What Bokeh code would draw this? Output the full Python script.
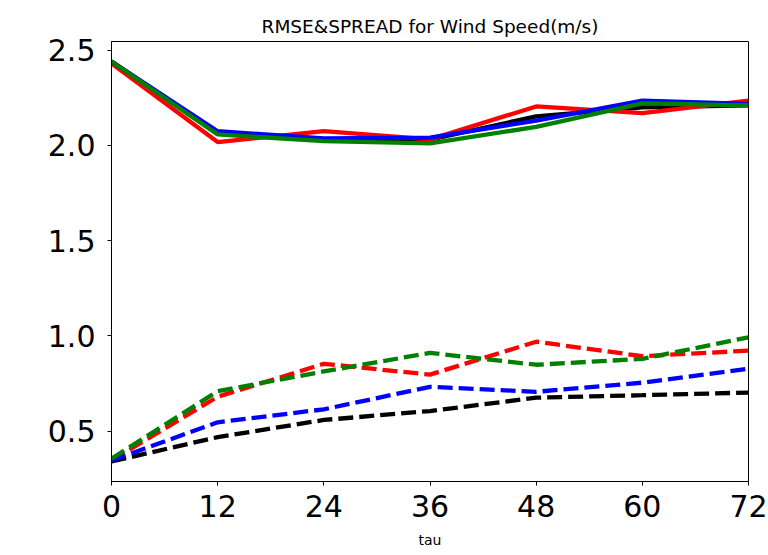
from bokeh.plotting import figure
from bokeh.embed import file_html
from bokeh.resources import INLINE
from bokeh.models import Range1d, FixedTicker

tau = [0, 12, 24, 36, 48, 60, 72]

rmse_black = [2.44, 2.065, 2.03, 2.03, 2.152, 2.199, 2.21]
rmse_red = [2.43, 2.017, 2.074, 2.031, 2.204, 2.169, 2.235]
rmse_blue = [2.44, 2.074, 2.036, 2.040, 2.13, 2.235, 2.218]
rmse_green = [2.44, 2.057, 2.022, 2.010, 2.097, 2.22, 2.21]

spread_black = [0.34, 0.468, 0.558, 0.605, 0.675, 0.688, 0.702]
spread_blue = [0.345, 0.546, 0.614, 0.732, 0.706, 0.754, 0.827]
spread_red = [0.345, 0.680, 0.853, 0.796, 0.969, 0.893, 0.922]
spread_green = [0.355, 0.709, 0.813, 0.910, 0.848, 0.879, 0.992]

y_ticks = [0.5, 1.0, 1.5, 2.0, 2.5]

p = figure(width=768, height=555, output_backend="svg", toolbar_location=None,
           x_range=Range1d(0, 72), y_range=Range1d(0.235, 2.545),
           min_border_left=111, min_border_right=20, min_border_top=41,
           min_border_bottom=74, title="RMSE&SPREAD for Wind Speed(m/s)")

p.title.align = "center"
p.title.text_font = "DejaVu Sans"
p.title.text_font_size = "18.5px"
p.title.text_font_style = "normal"
p.title.text_color = "#000000"

p.grid.visible = False
p.outline_line_color = "#000000"
p.outline_line_width = 1

for ax in (p.xaxis, p.yaxis):
    ax.major_label_text_font = "DejaVu Sans"
    ax.major_label_text_font_size = "30px"
    ax.major_label_text_color = "#000000"
    ax.axis_line_color = "#000000"
    ax.major_tick_line_color = "#000000"
    ax.major_tick_in = 0
    ax.major_tick_out = 4
    ax.minor_tick_line_color = None

p.xaxis.ticker = FixedTicker(ticks=tau)
p.yaxis.ticker = FixedTicker(ticks=y_ticks)
p.yaxis.major_label_overrides = {v: f"{v:.1f}" for v in y_ticks}
p.xaxis.major_label_standoff = 9
p.yaxis.major_label_standoff = 12
p.xaxis.axis_label = "tau"
p.xaxis.axis_label_text_font = "DejaVu Sans"
p.xaxis.axis_label_text_font_size = "14px"
p.xaxis.axis_label_text_font_style = "normal"
p.xaxis.axis_label_text_color = "#000000"
p.xaxis.axis_label_standoff = 12

lw = 4.3
p.line(tau, rmse_black, color="black", line_width=lw)
p.line(tau, rmse_red, color="red", line_width=lw)
p.line(tau, rmse_blue, color="blue", line_width=lw)
p.line(tau, rmse_green, color="green", line_width=lw)

dash = "15 6"
p.line(tau, spread_black, color="black", line_width=lw, line_dash=dash)
p.line(tau, spread_red, color="red", line_width=lw, line_dash=dash)
p.line(tau, spread_blue, color="blue", line_width=lw, line_dash=dash)
p.line(tau, spread_green, color="green", line_width=lw, line_dash=dash)

open("out.html", "w").write(file_html(p, INLINE))
